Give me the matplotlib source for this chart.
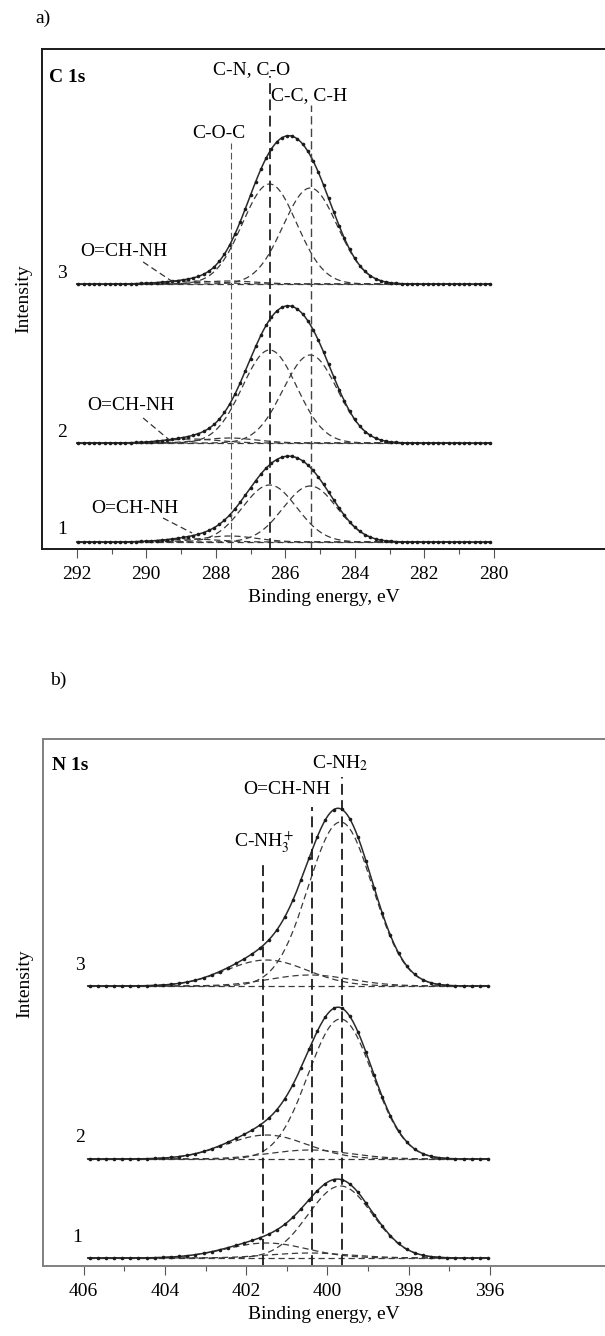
import numpy as np
import matplotlib
matplotlib.use("Agg")
import matplotlib.pyplot as plt

plt.rcParams['font.family'] = ['Liberation Serif', 'DejaVu Serif']
plt.rcParams['mathtext.fontset'] = 'stix'

# ---------------- data ----------------
# C 1s: component centres (eV) and widths (sigma, eV)
c_centers = [288.7, 287.6, 286.45, 285.28]          # O=CH-NH, C-O-C, C-N/C-O, C-C/C-H
c_sigma = [0.78, 0.78, 0.78, 0.78]
# heights per spectrum (1, 2, 3) for each component (arb. units)
c_heights_1 = [3, 6, 57, 56]
c_heights_2 = [4, 5, 93, 88]
c_heights_3 = [3, 3, 100, 96]
c_offsets = [7, 106, 265]
c_range = (292.0, 280.1)

# N 1s components: C-NH3+, O=CH-NH, C-NH2
n_centers = [401.5, 400.43, 399.68]
n_sigma = [1.0, 1.0, 0.79]
n_heights_1 = [15, 5, 72]
n_heights_2 = [24, 9, 140]
n_heights_3 = [26, 11, 164]
n_offsets = [8, 107, 280]
n_range = (405.9, 396.05)

c_lines = [287.57, 286.43, 285.26]
n_lines = [401.58, 400.38, 399.64]
c_xticks = [292, 290, 288, 286, 284, 282, 280]
n_xticks = [406, 404, 402, 400, 398, 396]
spectrum_labels = ['1', '2', '3']


def gauss(x, c, h, s):
    return h * np.exp(-(x - c) ** 2 / (2 * s ** 2))


W, H = 605, 1336
fig = plt.figure(figsize=(W / 100, H / 100), dpi=100)


def px_axes(left, top, right, bottom):
    return fig.add_axes([left / W, 1 - bottom / H, (right - left) / W, (bottom - top) / H])


comp_kw = dict(color='#3a3a3a', lw=0.9, ls=(0, (5, 3)))
env_kw = dict(color='#2a2a2a', lw=1.1)
pt_kw = dict(color='#1a1a1a', ls='none', marker='o', ms=2.6, mew=0)


def draw_spectra(ax, centers, sigmas, heights_list, offsets, xr, step):
    x = np.linspace(xr[1], xr[0], 800)
    for hs, off in zip(heights_list, offsets):
        env = np.zeros_like(x)
        for c, h, s in zip(centers, hs, sigmas):
            comp = gauss(x, c, h, s)
            env += comp
            ax.plot(x, off + comp, **comp_kw)
        ax.plot([xr[0], xr[1]], [off, off], **comp_kw)
        ax.plot(x, off + env, **env_kw)
        xp = np.arange(xr[1], xr[0] + 1e-6, step)
        ep = np.zeros_like(xp)
        for c, h, s in zip(centers, hs, sigmas):
            ep += gauss(xp, c, h, s)
        ax.plot(xp, off + ep, **pt_kw)


def style_axes(ax, spine_color, ticks, ylab_y):
    ax.spines['right'].set_visible(False)
    for s in ['left', 'top', 'bottom']:
        ax.spines[s].set_color(spine_color)
        ax.spines[s].set_linewidth(1.4)
    ax.set_yticks([])
    ax.set_xticks(ticks)
    ax.set_xticks(np.arange(min(ticks), max(ticks) + 1, 1), minor=True)
    ax.tick_params(axis='x', which='major', length=6.5, width=0.8, color='#555555',
                   labelsize=14, pad=6)
    ax.tick_params(axis='x', which='minor', length=3.5, width=0.8, color='#555555')
    ax.set_xlabel('Binding energy, eV', fontsize=14, labelpad=4)
    ax.set_ylabel('Intensity', fontsize=14, labelpad=8)
    ax.yaxis.set_label_coords(-0.018, ylab_y)


# ---------------- panel a) C 1s ----------------
axa = px_axes(42, 49, 605, 549)
axa.set_xlim(293.0, 276.8)
axa.set_ylim(0, 500)
style_axes(axa, '#1a1a1a', c_xticks, 0.5)
draw_spectra(axa, c_centers, c_sigma, [c_heights_1, c_heights_2, c_heights_3],
             c_offsets, c_range, 0.15)

vl_a = [(c_lines[0], 406, 0.8, '#555555'), (c_lines[1], 473, 1.3, '#222222'),
        (c_lines[2], 444, 1.0, '#444444')]
for xv, ytop, lw, col in vl_a:
    axa.plot([xv, xv], [0, ytop], color=col, lw=lw, ls=(0, (6, 3)))

axa.text(292.8, 472, 'C 1s', fontsize=14, fontweight='bold', ha='left', va='center')
axa.text(286.97, 479, 'C-N, C-O', fontsize=14, ha='center', va='center')
axa.text(285.32, 453, 'C-C, C-H', fontsize=14, ha='center', va='center')
axa.text(287.92, 415, 'C-O-C', fontsize=14, ha='center', va='center')

och_a = [(290.64, 298, (290.09, 287), (289.23, 267)),
         (290.45, 144, (290.09, 131), (289.30, 108)),
         (290.32, 41, (289.52, 31), (288.68, 16))]
for tx, ty, p0, p1 in och_a:
    axa.text(tx, ty, 'O=CH-NH', fontsize=14, ha='center', va='center')
    axa.plot([p0[0], p1[0]], [p0[1], p1[1]], color='#333333', lw=0.9, ls=(0, (5, 3)))

for lab, yv in zip(spectrum_labels, [20, 117, 276]):
    axa.text(292.42, yv, lab, fontsize=14, ha='center', va='center')

fig.text(35 / W, 1 - 18 / H, 'a)', fontsize=14, ha='left', va='center')

# ---------------- panel b) N 1s ----------------
axb = px_axes(43, 739, 605, 1266)
axb.set_xlim(407.0, 393.17)
axb.set_ylim(0, 527)
style_axes(axb, '#808080', n_xticks, 0.535)
draw_spectra(axb, n_centers, n_sigma, [n_heights_1, n_heights_2, n_heights_3],
             n_offsets, n_range, 0.2)

for xv, ytop in zip(n_lines, [406, 459, 489]):
    axb.plot([xv, xv], [0, ytop], color='#1a1a1a', lw=1.3, ls=(0, (6, 3)))

axb.text(406.78, 501, 'N 1s', fontsize=14, fontweight='bold', ha='left', va='center')
axb.text(399.69, 503, 'C-NH$_2$', fontsize=14, ha='center', va='center')
axb.text(401.01, 476, 'O=CH-NH', fontsize=14, ha='center', va='center')
axb.text(401.55, 425, 'C-NH$_3^+$', fontsize=14, ha='center', va='center')

for lab, (xv, yv) in zip(spectrum_labels, [(406.16, 28), (406.09, 128), (406.09, 301)]):
    axb.text(xv, yv, lab, fontsize=14, ha='center', va='center')

fig.text(50 / W, 1 - 680 / H, 'b)', fontsize=14, ha='left', va='center')

fig.savefig('out.png', dpi=100)
